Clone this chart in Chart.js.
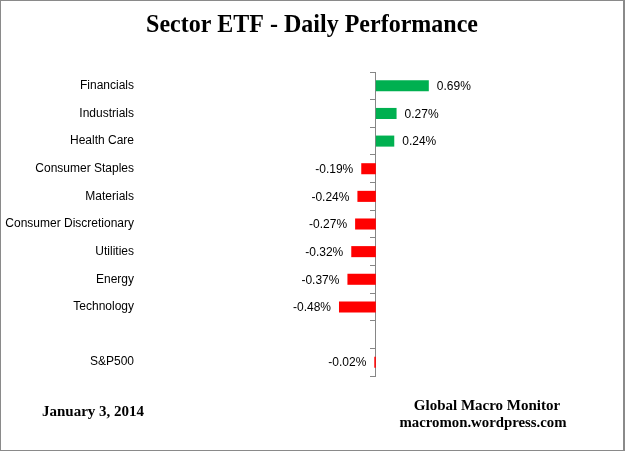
<!DOCTYPE html>
<html>
<head>
<meta charset="utf-8">
<script src="https://cdn.jsdelivr.net/npm/chart.js@4"></script>
<style>
  html, body { margin: 0; padding: 0; background: #fff; }
  #wrap { position: relative; width: 625px; height: 451px; }
  #frame { position: absolute; left: 0; top: 0; width: 625px; height: 451px; box-sizing: border-box; border: 1px solid #8a8a8a; border-right-width: 2px; pointer-events: none; }
  canvas { position: absolute; left: 0; top: 0; }
</style>
</head>
<body>
<div id="wrap">
  <canvas id="perfChart" width="625" height="451"></canvas>
  <div id="frame"></div>
</div>
<script>
// Données
const sectors = ['Financials', 'Industrials', 'Health Care', 'Consumer Staples', 'Materials',
  'Consumer Discretionary', 'Utilities', 'Energy', 'Technology', '', 'S&P500'];
const dailyPct = [0.69, 0.27, 0.24, -0.19, -0.24, -0.27, -0.32, -0.37, -0.48, null, -0.02];

const titleText = 'Sector ETF - Daily Performance';
const dateText = 'January 3, 2014';
const sourceLines = ['Global Macro Monitor', 'macromon.wordpress.com'];

const GREEN = '#00B050';
const RED = '#FF0000';
const AXIS_GREY = '#868686';

// Textes autour du graphique + étiquettes de valeurs
const decorPlugin = {
  id: 'decor',
  afterDatasetsDraw(chart) {
    const ctx = chart.ctx;
    const meta = chart.getDatasetMeta(0);
    ctx.save();
    ctx.font = '12px "Liberation Sans", Arial, sans-serif';
    ctx.fillStyle = '#000';
    ctx.textBaseline = 'middle';
    meta.data.forEach((bar, i) => {
      const v = dailyPct[i];
      if (v === null) return;
      const txt = v.toFixed(2) + '%';
      if (v >= 0) {
        ctx.textAlign = 'left';
        ctx.fillText(txt, bar.x + 8, bar.y + 1);
      } else {
        ctx.textAlign = 'right';
        ctx.fillText(txt, bar.x - 8, bar.y + 1);
      }
    });

    ctx.textBaseline = 'alphabetic';
    ctx.textAlign = 'center';
    ctx.font = 'bold 24px "Liberation Serif", "Times New Roman", serif';
    ctx.save();
    ctx.translate(312, 32);
    ctx.scale(1, 1.06);
    ctx.fillText(titleText, 0, 0);
    ctx.restore();

    ctx.textAlign = 'left';
    ctx.font = 'bold 15px "Liberation Serif", "Times New Roman", serif';
    ctx.fillText(dateText, 42, 416);

    ctx.textAlign = 'center';
    ctx.fillText(sourceLines[0], 487, 410);
    ctx.font = 'bold 14.8px "Liberation Serif", "Times New Roman", serif';
    ctx.fillText(sourceLines[1], 483, 427);
    ctx.restore();
  }
};

const ctx = document.getElementById('perfChart').getContext('2d');
const perfChart = new Chart(ctx, {
  type: 'bar',
  data: {
    labels: sectors,
    datasets: [{
      data: dailyPct,
      backgroundColor: dailyPct.map(v => (v !== null && v < 0) ? RED : GREEN),
      borderWidth: 0,
      categoryPercentage: 0.8,
      barPercentage: 0.5
    }]
  },
  options: {
    indexAxis: 'y',
    responsive: false,
    animation: false,
    events: [],
    layout: { padding: { left: 0, right: 134, top: 72, bottom: 75 } },
    scales: {
      x: { display: false, min: -3.15, max: 1.5 },
      y: {
        afterFit: (scale) => { scale.width = 134; },
        grid: { display: false, drawTicks: false },
        border: { display: false },
        ticks: {
          padding: 0,
          color: '#000',
          font: { family: '"Liberation Sans", Arial, sans-serif', size: 12 }
        }
      },
      y2: {
        type: 'category',
        axis: 'y',
        labels: sectors,
        position: { x: 0 },
        offset: true,
        grid: { offset: true, drawOnChartArea: false, tickLength: 5, color: AXIS_GREY },
        border: { color: AXIS_GREY, width: 1 },
        ticks: { display: false }
      }
    },
    plugins: {
      legend: { display: false },
      tooltip: { enabled: false }
    }
  },
  plugins: [decorPlugin]
});
</script>
</body>
</html>
